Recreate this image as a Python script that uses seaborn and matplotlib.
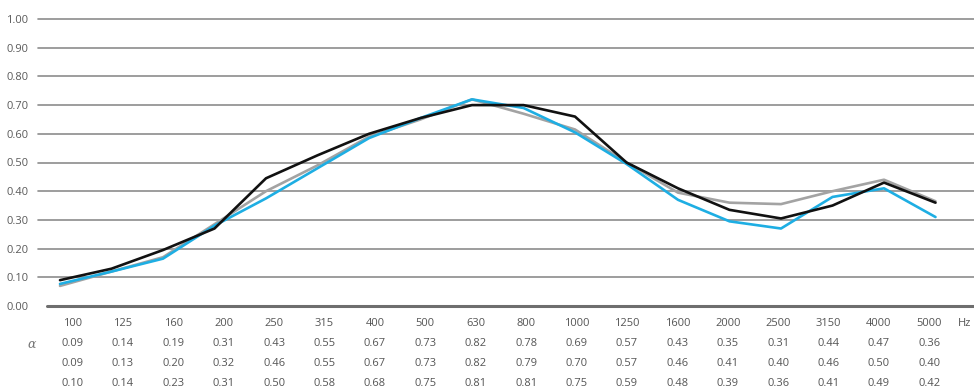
import numpy as np
import pandas as pd
import matplotlib
matplotlib.use("Agg")
import matplotlib.pyplot as plt
import seaborn as sns

# ---- data ----
freqs = ["100", "125", "160", "200", "250", "315", "400", "500", "630",
         "800", "1000", "1250", "1600", "2000", "2500", "3150", "4000", "5000"]

black_vals = [0.09, 0.13, 0.195, 0.27, 0.445, 0.525, 0.60, 0.655, 0.70,
              0.70, 0.66, 0.50, 0.41, 0.335, 0.305, 0.35, 0.43, 0.36]
gray_vals = [0.07, 0.12, 0.17, 0.285, 0.40, 0.49, 0.59, 0.65, 0.72,
             0.67, 0.615, 0.50, 0.395, 0.36, 0.355, 0.40, 0.44, 0.365]
cyan_vals = [0.077, 0.12, 0.165, 0.28, 0.375, 0.48, 0.585, 0.655, 0.72,
             0.69, 0.605, 0.495, 0.37, 0.295, 0.27, 0.38, 0.41, 0.31]

table_row1 = ["0.09", "0.14", "0.19", "0.31", "0.43", "0.55", "0.67", "0.73", "0.82",
              "0.78", "0.69", "0.57", "0.43", "0.35", "0.31", "0.44", "0.47", "0.36"]
table_row2 = ["0.09", "0.13", "0.20", "0.32", "0.46", "0.55", "0.67", "0.73", "0.82",
              "0.79", "0.70", "0.57", "0.46", "0.41", "0.40", "0.46", "0.50", "0.40"]
table_row3 = ["0.10", "0.14", "0.23", "0.31", "0.50", "0.58", "0.68", "0.75", "0.81",
              "0.81", "0.75", "0.59", "0.48", "0.39", "0.36", "0.41", "0.49", "0.42"]

y_ticks = [0.0, 0.1, 0.2, 0.3, 0.4, 0.5, 0.6, 0.7, 0.8, 0.9, 1.0]
series_names = ["gray", "cyan", "black"]
series_colors = {"gray": "#a3a3a3", "cyan": "#1eaee3", "black": "#111111"}

# ---- long form ----
rows = []
for name, vals in zip(series_names, [gray_vals, cyan_vals, black_vals]):
    for i, v in enumerate(vals):
        rows.append({"idx": i, "value": v, "series": name})
df = pd.DataFrame(rows)

sns.set_theme(style="white")
plt.rcParams["font.family"] = ["Open Sans", "DejaVu Sans"]

W, H = 974, 389
fig = plt.figure(figsize=(W / 100, H / 100), dpi=100)
ax_left, ax_right, ax_top, ax_bot = 38, 974, 19, 306
ax = fig.add_axes([ax_left / W, 1 - ax_bot / H, (ax_right - ax_left) / W, (ax_bot - ax_top) / H])

# x range so that point i sits at 60 + 51.5*i px
step = 51.5
x0 = (ax_left - 60) / step
x1 = (ax_right - 60) / step
ax.set_xlim(x0, x1)
ax.set_ylim(0, 1)

grid_color = "#8c8c8c"
for t in y_ticks[1:]:
    ax.axhline(t, color=grid_color, lw=1.2, zorder=1, clip_on=False)
ax.axhline(0, xmin=(47 - ax_left) / (ax_right - ax_left), color="#6e6e6e", lw=2.2,
           zorder=1, clip_on=False)

sns.lineplot(data=df, x="idx", y="value", hue="series", hue_order=series_names,
             palette=series_colors, linewidth=1.9, legend=False, ax=ax,
             zorder=3, sort=False)

for sp in ax.spines.values():
    sp.set_visible(False)
ax.set_xticks([])
ax.set_yticks(y_ticks)
ax.set_yticklabels([f"{t:.2f}" for t in y_ticks], fontsize=8, color="#5a5a5a")
ax.tick_params(axis="y", length=0, pad=7)
ax.set_xlabel("")
ax.set_ylabel("")

# ---- table under the chart ----
txt_color = "#555555"
col_x = [72.5 + 50.4 * i for i in range(len(freqs))]
row_y = [323, 344, 364, 384]
for r, labels in enumerate([freqs, table_row1, table_row2, table_row3]):
    for cx, lab in zip(col_x, labels):
        fig.text(cx / W, 1 - row_y[r] / H, lab, ha="center", va="center",
                 fontsize=8, color=txt_color)
fig.text(958 / W, 1 - 323 / H, "Hz", ha="left", va="center", fontsize=8,
         color=txt_color)
fig.text(32 / W, 1 - 344 / H, "α", ha="center", va="center", fontsize=9,
         color="#777777", style="italic", family="DejaVu Serif")

fig.savefig("out.png", dpi=100)
